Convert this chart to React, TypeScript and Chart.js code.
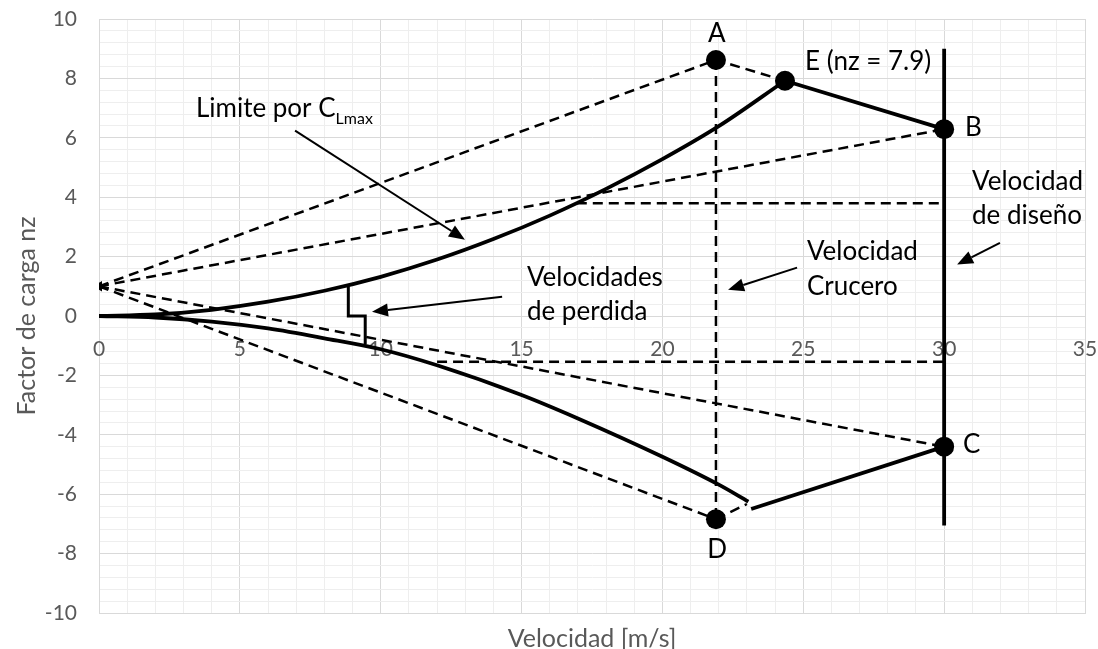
import React, { useEffect, useRef } from 'react';
import { Chart, registerables } from 'chart.js';

Chart.register(...registerables);

const FONT = 'Lato, "Open Sans", sans-serif';

// --- data (velocity [m/s], load factor nz) ---
const upperV = [0, 2, 4, 6, 8, 10, 12, 14, 16, 18, 20, 22, 24.35];
const upperN = [0, 0.05, 0.21, 0.48, 0.85, 1.32, 1.9, 2.59, 3.38, 4.28, 5.28, 6.39, 7.92];
const lowerV = [0, 2, 4, 6, 8, 10, 12, 15, 17, 20, 22, 23.05];
const lowerN = [0, -0.05, -0.19, -0.42, -0.75, -1.12, -1.66, -2.66, -3.45, -4.74, -5.68, -6.25];

const pointNames = ['A', 'E', 'B', 'C', 'D'];
const pointV = [21.9, 24.35, 30, 30, 21.9];
const pointN = [8.62, 7.92, 6.29, -4.4, -6.84];

const originV = 0;
const originN = 1;

const edgeEBv = [24.35, 30];
const edgeEBn = [7.92, 6.29];
const edgeNegV = [23.15, 30];
const edgeNegN = [-6.5, -4.4];
const edgeDdashV = [21.9, 23.0];
const edgeDdashN = [-6.84, -6.33];
const designV = [30, 30];
const designN = [9.0, -7.05];
const cruiseV = [21.9, 21.9];
const cruiseN = [8.62, -6.84];
const hPosV = [16.96, 30];
const hPosN = [3.8, 3.8];
const hNegV = [12.0, 30];
const hNegN = [-1.54, -1.54];
const stallV = [8.85, 8.85, 9.45, 9.45];
const stallN = [1.0, 0, 0, -0.95];

const xTickLabels = [0, 5, 10, 15, 20, 25, 30, 35];

// annotation texts (anchor in data units) and arrows
const textItems = [
  { text: 'Velocidades', x: 15.19, y: 1.02, align: 'left' },
  { text: 'de perdida', x: 15.19, y: -0.15, align: 'left' },
  { text: 'Velocidad', x: 25.13, y: 1.9, align: 'left' },
  { text: 'Crucero', x: 25.13, y: 0.72, align: 'left' },
  { text: 'Velocidad', x: 30.99, y: 4.25, align: 'left' },
  { text: 'de diseño', x: 30.99, y: 3.11, align: 'left' },
  { text: 'A', x: 21.93, y: 9.22, align: 'center' },
  { text: 'E (nz = 7.9)', x: 25.06, y: 8.28, align: 'left' },
  { text: 'B', x: 30.74, y: 6.07, align: 'left' },
  { text: 'C', x: 30.67, y: -4.61, align: 'left' },
  { text: 'D', x: 21.94, y: -8.15, align: 'center' },
];
const clmaxLabel = { main: 'Limite por C', sub: 'Lmax', x: 3.44, y: 6.71 };

const arrowTailX = [6.96, 14.31, 24.78, 31.98];
const arrowTailY = [6.24, 0.65, 1.63, 2.46];
const arrowTipX = [12.99, 9.69, 22.33, 30.46];
const arrowTipY = [2.57, 0.14, 0.88, 1.73];

const pts = (xs: number[], ys: number[]) => xs.map((x, i) => ({ x, y: ys[i] }));

const solid = (data: any[], width = 3.8) => ({
  data,
  showLine: true,
  borderColor: '#000',
  borderWidth: width,
  pointRadius: 0,
  pointHoverRadius: 0,
  fill: false,
});
const dashed = (data: any[]) => ({
  data,
  showLine: true,
  borderColor: '#000',
  borderWidth: 2.5,
  borderDash: [10, 6],
  pointRadius: 0,
  pointHoverRadius: 0,
  fill: false,
});

const annotationPlugin = {
  id: 'annot',
  beforeDatasetsDraw(chart: any) {
    const { ctx, scales } = chart;
    const xs = scales.x;
    const ys = scales.y;
    ctx.save();
    ctx.font = `21px ${FONT}`;
    ctx.fillStyle = '#595959';
    ctx.textAlign = 'center';
    ctx.textBaseline = 'alphabetic';
    const y0 = ys.getPixelForValue(0);
    xTickLabels.forEach((v) => {
      ctx.fillText(String(v), xs.getPixelForValue(v), y0 + 40);
    });
    ctx.restore();
  },
  afterDatasetsDraw(chart: any) {
    const { ctx, scales } = chart;
    const xs = scales.x;
    const ys = scales.y;
    ctx.save();
    ctx.fillStyle = '#000';
    ctx.textBaseline = 'alphabetic';
    ctx.font = `26px ${FONT}`;
    textItems.forEach((t) => {
      ctx.textAlign = t.align as CanvasTextAlign;
      ctx.fillText(t.text, xs.getPixelForValue(t.x), ys.getPixelForValue(t.y));
    });
    // C_Lmax label with subscript
    ctx.textAlign = 'left';
    const lx = xs.getPixelForValue(clmaxLabel.x);
    const ly = ys.getPixelForValue(clmaxLabel.y);
    ctx.fillText(clmaxLabel.main, lx, ly);
    const w = ctx.measureText(clmaxLabel.main).width;
    ctx.font = `16px ${FONT}`;
    ctx.fillText(clmaxLabel.sub, lx + w, ly + 7);

    // arrows
    ctx.strokeStyle = '#000';
    ctx.lineWidth = 2;
    arrowTailX.forEach((_, i) => {
      const x1 = xs.getPixelForValue(arrowTailX[i]);
      const y1 = ys.getPixelForValue(arrowTailY[i]);
      const x2 = xs.getPixelForValue(arrowTipX[i]);
      const y2 = ys.getPixelForValue(arrowTipY[i]);
      const ang = Math.atan2(y2 - y1, x2 - x1);
      const len = 16;
      const hw = 6.5;
      const bx = x2 - len * Math.cos(ang);
      const by = y2 - len * Math.sin(ang);
      ctx.beginPath();
      ctx.moveTo(x1, y1);
      ctx.lineTo(bx, by);
      ctx.stroke();
      ctx.beginPath();
      ctx.moveTo(x2, y2);
      ctx.lineTo(bx + hw * Math.sin(ang), by - hw * Math.cos(ang));
      ctx.lineTo(bx - hw * Math.sin(ang), by + hw * Math.cos(ang));
      ctx.closePath();
      ctx.fill();
    });
    ctx.restore();
  },
};

const isMultiple = (v: number, m: number) => Math.abs(v / m - Math.round(v / m)) < 1e-6;

export default function App() {
  const ref = useRef<HTMLCanvasElement>(null);
  useEffect(() => {
    const O = { x: originV, y: originN };
    const P = pts(pointV, pointN);
    const [A, E, B, C, D] = P;
    const chart = new Chart(ref.current as HTMLCanvasElement, {
      type: 'scatter',
      data: {
        datasets: [
          dashed([O, A, E]),
          dashed([O, B]),
          dashed([O, C]),
          dashed([O, D]),
          dashed(pts(edgeDdashV, edgeDdashN)),
          dashed(pts(cruiseV, cruiseN)),
          dashed(pts(hPosV, hPosN)),
          dashed(pts(hNegV, hNegN)),
          { ...solid(pts(upperV, upperN)), cubicInterpolationMode: 'monotone' },
          { ...solid(pts(lowerV, lowerN)), cubicInterpolationMode: 'monotone' },
          solid(pts(edgeEBv, edgeEBn)),
          solid(pts(edgeNegV, edgeNegN)),
          solid(pts(designV, designN)),
          solid(pts(stallV, stallN), 3),
          {
            data: [O],
            showLine: false,
            pointStyle: 'triangle',
            rotation: -90,
            pointRadius: 6,
            backgroundColor: '#000',
            borderColor: '#000',
            borderWidth: 0,
          },
          {
            label: pointNames.join(','),
            data: P,
            showLine: false,
            pointRadius: 10,
            pointHoverRadius: 10,
            backgroundColor: '#000',
            borderColor: '#000',
            borderWidth: 0,
          },
        ] as any,
      },
      options: {
        animation: false,
        responsive: true,
        maintainAspectRatio: false,
        events: [],
        layout: { padding: { left: 12, right: 13, top: 19, bottom: 0 } },
        plugins: { legend: { display: false }, tooltip: { enabled: false } },
        scales: {
          x: {
            type: 'linear',
            min: 0,
            max: 35,
            afterFit: (s: any) => {
              s.height = 36;
              s.paddingLeft = 0;
              s.paddingRight = 0;
            },
            ticks: { stepSize: 1, display: false, autoSkip: false, maxTicksLimit: 1000 },
            grid: {
              drawTicks: false,
              color: (c: any) => (isMultiple(c.tick.value, 5) ? '#d9d9d9' : '#eeeeee'),
            },
            border: { color: '#d9d9d9' },
            title: {
              display: true,
              text: 'Velocidad [m/s]',
              color: '#595959',
              font: { family: FONT, size: 25, lineHeight: 0.84 },
              padding: 0,
            },
          },
          y: {
            type: 'linear',
            min: -10,
            max: 10,
            afterFit: (s: any) => {
              s.width = 87;
              s.paddingTop = 0;
              s.paddingBottom = 0;
            },
            ticks: {
              stepSize: 0.4,
              autoSkip: false,
              maxTicksLimit: 1000,
              padding: 22,
              color: '#595959',
              font: { family: FONT, size: 21 },
              callback: (v: any) => (isMultiple(Number(v), 2) ? String(Math.round(Number(v))) : ''),
            },
            grid: {
              drawTicks: false,
              color: (c: any) => (isMultiple(c.tick.value, 2) ? '#d9d9d9' : '#eeeeee'),
            },
            border: { color: '#d9d9d9' },
            title: {
              display: true,
              text: 'Factor de carga nz',
              color: '#595959',
              font: { family: FONT, size: 25, lineHeight: 1.2 },
              padding: 0,
            },
          },
        },
      },
      plugins: [annotationPlugin],
    });
    return () => chart.destroy();
  }, []);
  return (
    <div style={{ position: 'fixed', left: 0, top: 0, width: 1098, height: 649, background: '#fff' }}>
      <canvas ref={ref} />
    </div>
  );
}
